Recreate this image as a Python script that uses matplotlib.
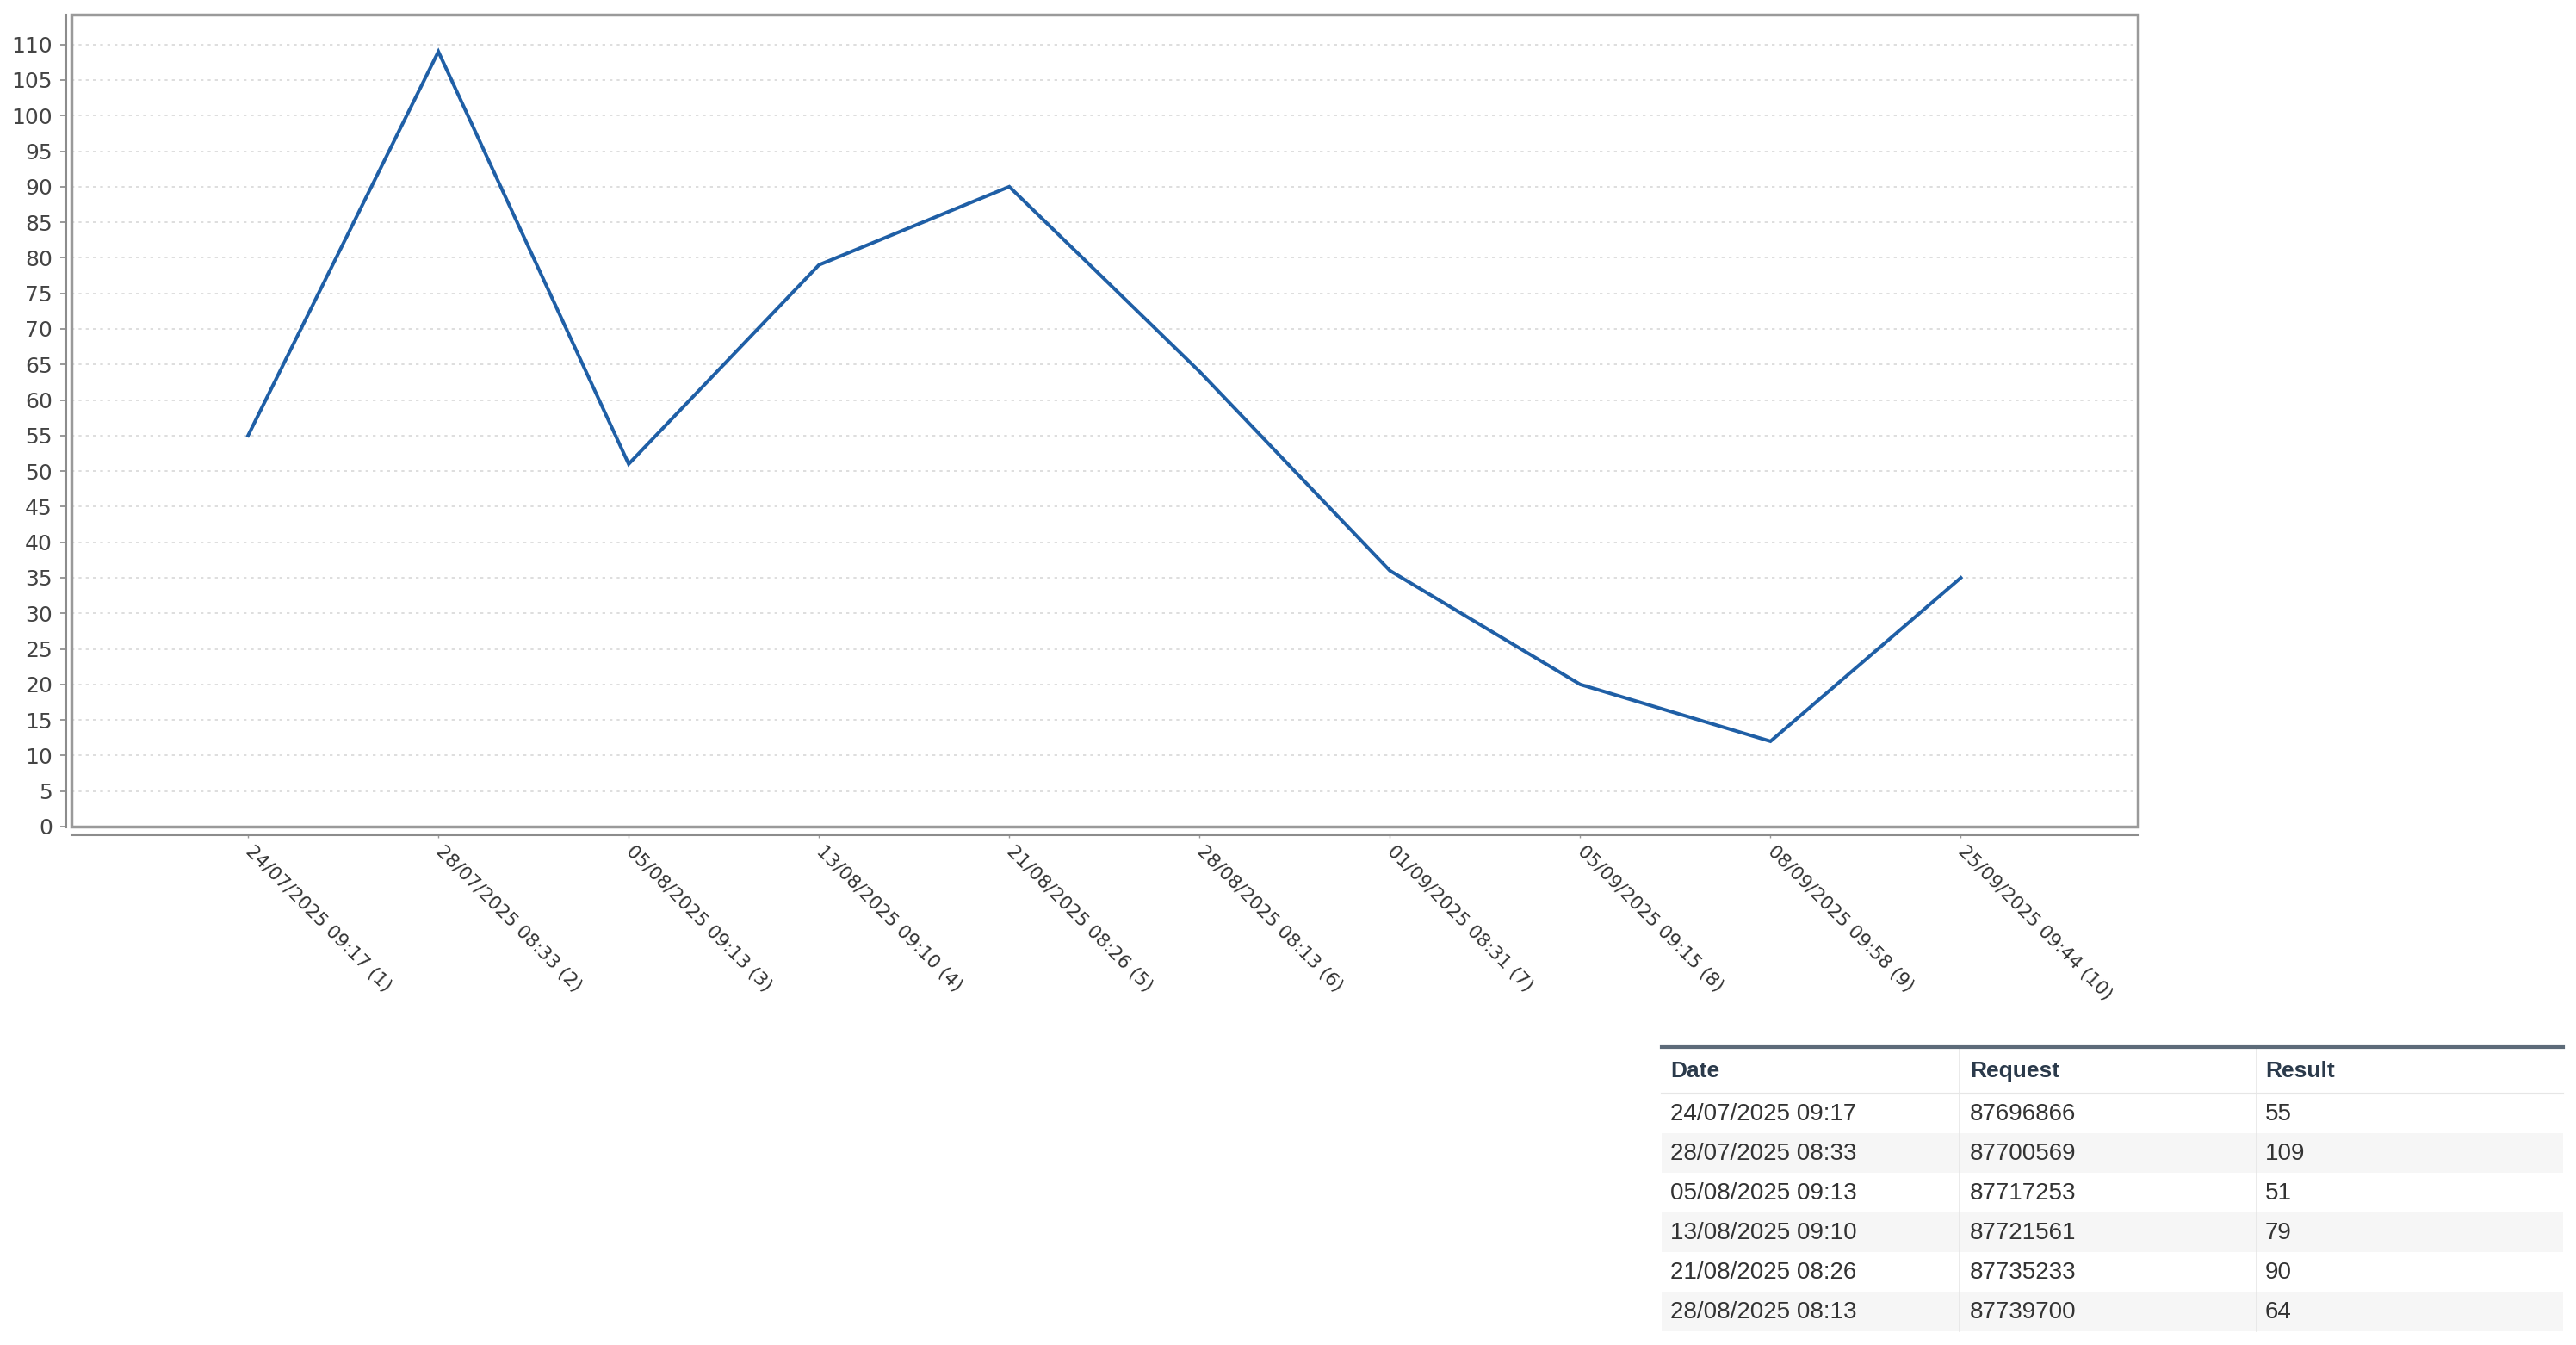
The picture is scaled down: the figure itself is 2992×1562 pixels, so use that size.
import matplotlib
matplotlib.use("Agg")
import matplotlib.pyplot as plt
from matplotlib.patches import Rectangle
from matplotlib.lines import Line2D

dates = ["24/07/2025 09:17", "28/07/2025 08:33", "05/08/2025 09:13",
         "13/08/2025 09:10", "21/08/2025 08:26", "28/08/2025 08:13",
         "01/09/2025 08:31", "05/09/2025 09:15", "08/09/2025 09:58",
         "25/09/2025 09:44"]
results = [55, 109, 51, 79, 90, 64, 36, 20, 12, 35]
requests = ["87696866", "87700569", "87717253", "87721561", "87735233", "87739700"]
table_columns = ["Date", "Request", "Result"]
table_rows = 6

W, H = 2992, 1562
fig = plt.figure(figsize=(W / 100, H / 100), dpi=100)
fig.patch.set_facecolor("white")


def fx(px):
    return px / W


def fy(py):
    return 1 - py / H


# ---- chart ----
ax = fig.add_axes([fx(83), fy(960), fx(2483) - fx(83), fy(17) - fy(960)])
x = list(range(1, len(results) + 1))
ax.plot(x, results, color="#1f5fa6", lw=2.9, solid_joinstyle="miter")

ax.set_xlim(0.072, 10.93)
ax.set_ylim(0, 114.2)
ax.set_yticks(range(0, 111, 5))
ax.set_xticks(x, [f"{d} ({i})" for i, d in zip(x, dates)])
ax.tick_params(axis="x", length=3, width=1, color="#999999", pad=9,
               labelsize=15.5, labelcolor="#333333", labelrotation=-45)
ax.tick_params(axis="y", length=4.5, width=1.2, color="#888888", pad=6.5,
               labelsize=18, labelcolor="#444444")

ax.grid(axis="y", color="#d8d8d8", lw=1.2, ls=(0, (2, 3)))
ax.set_axisbelow(True)

for s in ["top", "right"]:
    ax.spines[s].set_visible(False)
ax.spines["left"].set_position(("outward", 5))
ax.spines["bottom"].set_position(("outward", 6.5))
for s in ["left", "bottom"]:
    ax.spines[s].set_color("#8c8c8c")
    ax.spines[s].set_linewidth(2.2)
ax.add_patch(Rectangle((0, 0), 1, 1, transform=ax.transAxes, fill=False,
                       edgecolor="#9a9a9a", lw=2.5, clip_on=False, zorder=5))

# ---- table ----
tl, tr = 1930, 2977
top = 1216
head_bot = 1270
row_h = 46
col_x = [1940, 2288, 2631]
sep_x = [2276, 2621]
last = head_bot + row_h * table_rows

for r in range(table_rows):
    y0 = head_bot + r * row_h
    if r % 2 == 1:
        fig.patches.append(Rectangle((fx(tl), fy(y0 + row_h)), fx(tr) - fx(tl),
                                     fy(y0) - fy(y0 + row_h), transform=fig.transFigure,
                                     facecolor="#f6f6f6", edgecolor="none", zorder=0))

for sx in sep_x:
    fig.lines.append(Line2D([fx(sx), fx(sx)], [fy(top), fy(last)], transform=fig.transFigure,
                            color="#e6e6e6", lw=1.2))
fig.lines.append(Line2D([fx(tl), fx(tr)], [fy(head_bot), fy(head_bot)], transform=fig.transFigure,
                        color="#e6e6e6", lw=1.5))
fig.lines.append(Line2D([fx(tl), fx(tr)], [fy(top), fy(top)], transform=fig.transFigure,
                        color="#5d6b79", lw=3))

for cx, name in zip(col_x, table_columns):
    fig.text(fx(cx), fy((top + head_bot) / 2 + 1), name, ha="left", va="center",
             fontsize=19, fontweight="bold", color="#2b3a4b", family="Liberation Sans")

for r in range(table_rows):
    cy = fy(head_bot + r * row_h + row_h / 2 + 1)
    vals = [dates[r], requests[r], str(results[r])]
    for cx, v in zip(col_x, vals):
        fig.text(fx(cx), cy, v, ha="left", va="center", fontsize=20,
                 color="#333333", family="Liberation Sans")

# ticks are built lazily; draw once, then anchor the rotated labels at the tick
fig.canvas.draw()
for lbl in ax.get_xticklabels():
    lbl.set_horizontalalignment("left")
    lbl.set_verticalalignment("center")
    lbl.set_rotation_mode("anchor")

fig.savefig("out.png", dpi=100, facecolor="white")
